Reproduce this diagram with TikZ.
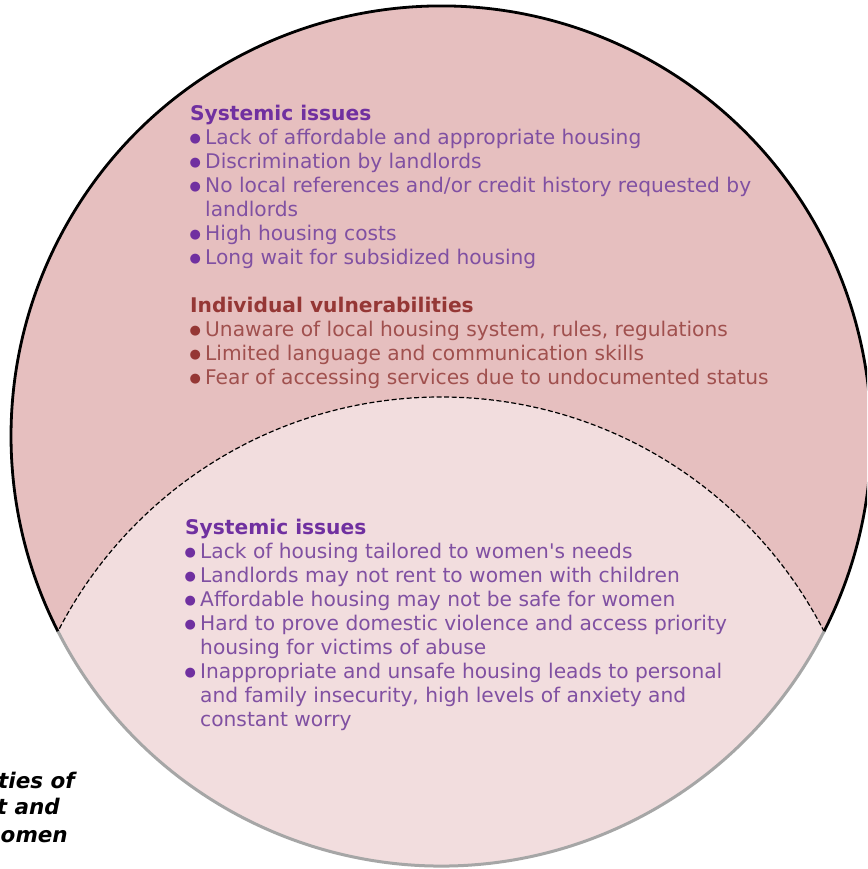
\documentclass[tikz,border=0pt]{standalone}
\usepackage{fontspec}
\setmainfont{DejaVu Sans}
\definecolor{outerpink}{RGB}{230,191,191}
\definecolor{lenspink}{RGB}{242,221,222}
\definecolor{purhead}{RGB}{112,48,160}
\definecolor{purtext}{RGB}{128,80,162}
\definecolor{brnhead}{RGB}{149,55,53}
\definecolor{brntext}{RGB}{160,80,78}
\definecolor{rimgray}{RGB}{166,166,166}
\newcommand\bdot[1]{\raisebox{2pt}{\fontsize{13}{13}\selectfont\color{#1}●}}
\newcommand\bitem[1]{\makebox[15pt][l]{\hspace{-0.5pt}\bdot{purhead}}#1}
\newcommand\bitemb[1]{\makebox[15pt][l]{\hspace{-0.5pt}\bdot{brnhead}}#1}
\newcommand\bcont[1]{\hspace*{15pt}#1}
\tikzset{
  txt/.style={align=left, inner sep=0pt, anchor=north west, font=\fontsize{20.2}{24}\selectfont},
  cutlbl/.style={inner sep=0pt, anchor=base east, font=\fontsize{21.5}{26}\selectfont\bfseries\itshape},
}
\begin{document}
\begin{tikzpicture}[x=1pt,y=1pt]
\useasboundingbox (0,0) rectangle (867,869);
\clip (0,0) rectangle (867,869);
\fill[white] (0,0) rectangle (867,869);
\coordinate (c1) at (441,433);
\coordinate (c2) at (441,42);
\fill[outerpink] (c1) circle (430pt);
\begin{scope}
  \clip (c1) circle (430pt);
  \fill[lenspink] (c2) circle (430pt);
  \draw[line width=1.2pt, dash pattern=on 5pt off 2.5pt] (c2) circle (430pt);
\end{scope}
\draw[black, line width=2.8pt] (c1) ++(-27.04:430pt) arc[start angle=-27.04, end angle=207.04, radius=430pt];
\draw[rimgray, line width=3pt] (c1) ++(207.04:430pt) arc[start angle=207.04, end angle=332.96, radius=430pt];

\node[txt, text=purtext] (sys1) at (190,764) {%
  {\bfseries\color{purhead}Systemic issues}\\
  \bitem{Lack of affordable and appropriate housing}\\
  \bitem{Discrimination by landlords}\\
  \bitem{No local references and/or credit history requested by}\\
  \bcont{landlords}\\
  \bitem{High housing costs}\\
  \bitem{Long wait for subsidized housing}};

\node[txt, text=brntext] (ind) at (190,572) {%
  {\bfseries\color{brnhead}Individual vulnerabilities}\\
  \bitemb{Unaware of local housing system, rules, regulations}\\
  \bitemb{Limited language and communication skills}\\
  \bitemb{Fear of accessing services due to undocumented status}};

\node[txt, text=purtext] (sys2) at (185,350) {%
  {\bfseries\color{purhead}Systemic issues}\\
  \bitem{Lack of housing tailored to women\textquotesingle s needs}\\
  \bitem{Landlords may not rent to women with children}\\
  \bitem{Affordable housing may not be safe for women}\\
  \bitem{Hard to prove domestic violence and access priority}\\
  \bcont{housing for victims of abuse}\\
  \bitem{Inappropriate and unsafe housing leads to personal}\\
  \bcont{and family insecurity, high levels of anxiety and}\\
  \bcont{constant worry}};

\node[cutlbl] (cut1) at (75,80) {ties of};
\node[cutlbl] (cut2) at (60,54) {t and};
\node[cutlbl] (cut3) at (68,27) {omen};
\end{tikzpicture}
\end{document}
